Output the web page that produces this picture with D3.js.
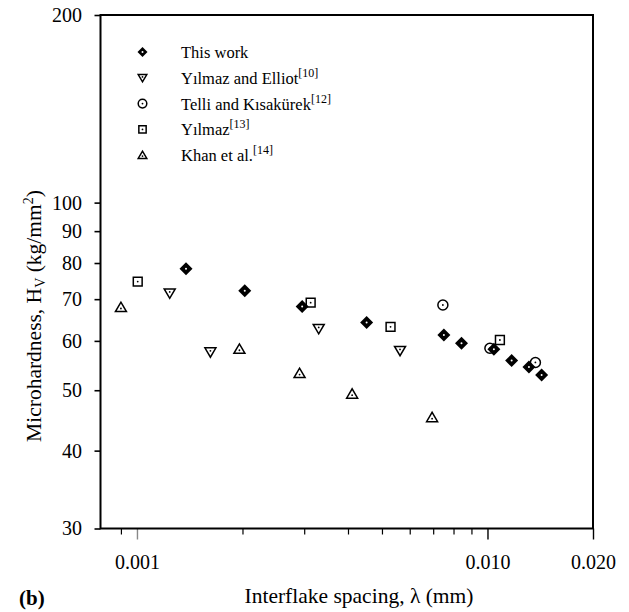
<!DOCTYPE html>
<html>
<head>
<meta charset="utf-8">
<script src="https://cdn.jsdelivr.net/npm/d3@7"></script>
<style>
  html, body { margin: 0; padding: 0; background: #fff; }
  svg { display: block; }
  text { font-family: "Liberation Serif", "Times New Roman", serif; fill: #000; }
</style>
</head>
<body>
<svg id="chart" width="629" height="612"></svg>
<script>
// Interflake spacing (mm) and microhardness (kg/mm^2) for each data set
const thisWorkX = [0.00138, 0.00203, 0.00296, 0.00452, 0.00751, 0.00843, 0.01043, 0.01172, 0.01313, 0.01427];
const thisWorkY = [78.3, 72.2, 68.1, 64.2, 61.3, 59.5, 58.2, 55.8, 54.5, 52.9];

const yilmazElliotX = [0.00124, 0.00162, 0.00330, 0.00563];
const yilmazElliotY = [71.6, 57.6, 62.8, 57.9];

const telliX = [0.00746, 0.01016, 0.01370];
const telliY = [68.5, 58.4, 55.4];

const yilmazX = [0.001005, 0.00313, 0.00529, 0.01085];
const yilmazY = [74.7, 69.1, 63.2, 60.2];

const khanX = [0.00090, 0.00196, 0.00291, 0.00411, 0.00695];
const khanY = [67.9, 58.2, 53.2, 49.3, 45.2];

// Axis ticks
const yTicks = [30, 40, 50, 60, 70, 80, 90, 100, 200];
const xMajorTicks = [0.001, 0.01, 0.02];
const xMajorLabels = ["0.001", "0.010", "0.020"];
const xMinorTicks = [0.0009, 0.002, 0.003, 0.004, 0.005, 0.006, 0.007, 0.008, 0.009];

// Legend entries
const legendNames = ["This work", "Yılmaz and Elliot", "Telli and Kısakürek", "Yılmaz", "Khan et al."];
const legendRefs = ["", "[10]", "[12]", "[13]", "[14]"];
const legendShapes = ["diamond", "down", "circle", "square", "up"];

const svg = d3.select("#chart");
const plot = { left: 100.5, right: 593, top: 15, bottom: 528.5 };

const x = d3.scaleLog().domain([0.000787, 0.02]).range([plot.left, plot.right]);
const y = d3.scaleLog().domain([30, 200]).range([plot.bottom, plot.top]);

// Y axis ticks and labels
const yAxis = d3.axisLeft(y)
  .tickValues(yTicks)
  .tickFormat(d3.format("d"))
  .tickSize(6)
  .tickPadding(12.5);
const gy = svg.append("g").attr("transform", `translate(${plot.left},0)`).call(yAxis);
gy.select(".domain").remove();
gy.selectAll(".tick line").attr("stroke", "#000").attr("stroke-width", 1.6);
gy.selectAll(".tick text").attr("font-size", 20).attr("font-family", "Liberation Serif, serif");

// X axis: minor ticks, then labelled major ticks
const xMinor = d3.axisBottom(x).tickValues(xMinorTicks).tickFormat("").tickSize(6);
const gxm = svg.append("g").attr("transform", `translate(0,${plot.bottom})`).call(xMinor);
gxm.select(".domain").remove();
gxm.selectAll(".tick line").attr("stroke", "#000").attr("stroke-width", 1.2);

const xMajor = d3.axisBottom(x)
  .tickValues(xMajorTicks)
  .tickFormat((d, i) => xMajorLabels[i])
  .tickSize(11)
  .tickPadding(15);
const gx = svg.append("g").attr("transform", `translate(0,${plot.bottom})`).call(xMajor);
gx.select(".domain").remove();
gx.selectAll(".tick line").attr("stroke", (d, i) => i === 0 ? "#888" : "#000").attr("stroke-width", 1.4);
gx.selectAll(".tick text").attr("font-size", 20).attr("font-family", "Liberation Serif, serif");

// Plot frame
svg.append("rect")
  .attr("x", plot.left).attr("y", plot.top)
  .attr("width", plot.right - plot.left).attr("height", plot.bottom - plot.top)
  .attr("fill", "none").attr("stroke", "#000").attr("stroke-width", 2);

// Marker outlines centred on the origin
function markerPath(shape, s) {
  switch (shape) {
    case "diamond": return `M0,${-s}L${s},0L0,${s}L${-s},0Z`;
    case "down": return `M${-s},${-s * 0.75}L${s},${-s * 0.75}L0,${s * 0.95}Z`;
    case "up": return `M${-s},${s * 0.75}L${s},${s * 0.75}L0,${-s * 0.95}Z`;
    case "square": return `M${-s * 0.85},${-s * 0.85}H${s * 0.85}V${s * 0.85}H${-s * 0.85}Z`;
    default: return `M${s},0A${s},${s} 0 1,1 ${-s},0A${s},${s} 0 1,1 ${s},0Z`;
  }
}

function drawMarker(g, shape, cx, cy, s) {
  const grp = g.append("g").attr("transform", `translate(${cx},${cy})`);
  const d = markerPath(shape, s);
  if (shape === "diamond") {
    grp.append("path").attr("d", d).attr("fill", "#000");
    grp.append("circle").attr("r", 1).attr("fill", "#fff");
  } else {
    grp.append("path").attr("d", d).attr("fill", "none")
      .attr("stroke", "#000").attr("stroke-width", 1.5).attr("stroke-linejoin", "miter");
    grp.append("circle").attr("cy", shape === "up" ? s * 0.2 : shape === "down" ? -s * 0.2 : 0)
      .attr("r", 0.9).attr("fill", "#000");
  }
}

const marks = svg.append("g");
const series = [
  { xs: khanX, ys: khanY, shape: "up", size: 5.5 },
  { xs: yilmazElliotX, ys: yilmazElliotY, shape: "down", size: 5.5 },
  { xs: telliX, ys: telliY, shape: "circle", size: 5 },
  { xs: thisWorkX, ys: thisWorkY, shape: "diamond", size: 6.5 },
  { xs: yilmazX, ys: yilmazY, shape: "square", size: 5.2 }
];
series.forEach(sr => {
  sr.xs.forEach((xv, i) => drawMarker(marks, sr.shape, x(xv), y(sr.ys[i]), sr.size));
});

// Legend
const legend = svg.append("g");
legendNames.forEach((name, i) => {
  const ly = 52 + i * 25.8;
  drawMarker(legend, legendShapes[i], 142.5, ly, legendShapes[i] === "diamond" ? 5 : 4.3);
  const t = legend.append("text").attr("x", 181).attr("y", ly + 6).attr("font-size", 16.5).text(name);
  if (legendRefs[i]) {
    t.append("tspan").attr("font-size", 12).attr("dy", -7).text(legendRefs[i]);
  }
});

// Axis titles
svg.append("text")
  .attr("x", 359).attr("y", 603)
  .attr("text-anchor", "middle").attr("font-size", 21.5)
  .text("Interflake spacing, λ (mm)");

const yt = svg.append("text")
  .attr("transform", "translate(41,316) rotate(-90)")
  .attr("text-anchor", "middle").attr("font-size", 21.5);
yt.append("tspan").text("Microhardness, H");
yt.append("tspan").attr("font-size", 14).attr("dy", 4).text("V");
yt.append("tspan").attr("dy", -4).text(" (kg/mm");
yt.append("tspan").attr("font-size", 14).attr("dy", -8).text("2");
yt.append("tspan").attr("dy", 8).text(")");

// Panel label
svg.append("text")
  .attr("x", 19).attr("y", 605)
  .attr("font-size", 21).attr("font-weight", "bold")
  .text("(b)");
</script>
</body>
</html>
